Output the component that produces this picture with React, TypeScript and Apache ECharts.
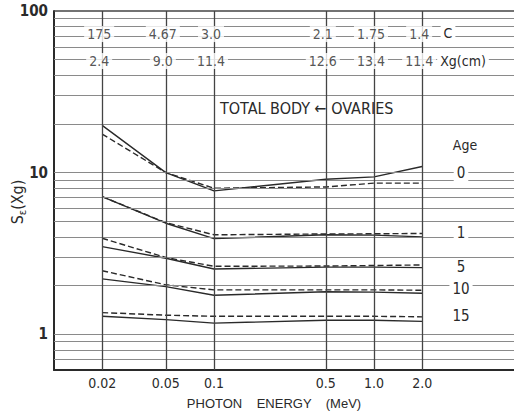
import React, { useEffect, useRef } from "react";
import * as echarts from "echarts";

// Photon energies (MeV) at which the curves are tabulated
const energies = [0.02, 0.05, 0.1, 0.5, 1.0, 2.0];
const energyLabels = ["0.02", "0.05", "0.1", "0.5", "1.0", "2.0"];

// Table rows printed across the top of the chart
const cRow = ["175", "4.67", "3.0", "2.1", "1.75", "1.4"];
const xgRow = ["2.4", "9.0", "11.4", "12.6", "13.4", "11.4"];

// Ages shown on the right
const ages = ["0", "1", "5", "10", "15"];

// S_e(Xg), total body (solid)
const bodyAge0 = [19.6, 10.0, 7.7, 9.1, 9.4, 10.9];
const bodyAge1 = [7.1, 4.86, 3.9, 4.12, 4.1, 4.0];
const bodyAge5 = [3.48, 2.95, 2.53, 2.6, 2.6, 2.58];
const bodyAge10 = [2.2, 1.97, 1.74, 1.83, 1.82, 1.79];
const bodyAge15 = [1.29, 1.23, 1.17, 1.22, 1.22, 1.2];

// S_e(Xg), ovaries (dashed)
const ovaryAge0 = [17.3, 10.0, 8.0, 8.15, 8.6, 8.6];
const ovaryAge1 = [7.1, 4.9, 4.12, 4.17, 4.18, 4.2];
const ovaryAge5 = [3.92, 2.98, 2.63, 2.64, 2.66, 2.68];
const ovaryAge10 = [2.47, 2.02, 1.88, 1.88, 1.88, 1.87];
const ovaryAge15 = [1.36, 1.31, 1.29, 1.29, 1.29, 1.28];

// Horizontal rulings of the log paper
const gridLevels = [
  0.7, 0.8, 0.9, 1, 2, 3, 4, 5, 6, 7, 8, 9, 10, 20, 30, 40, 50, 60, 70, 80, 90, 100,
];

const FONT = "'Liberation Sans Narrow', 'DejaVu Sans Condensed', 'Liberation Sans', sans-serif";
const WIDE_FONT = "'Liberation Sans', Arial, sans-serif";
const INK = "#2a2a2a";

export default function App() {
  const ref = useRef<HTMLDivElement>(null);

  useEffect(() => {
    if (!ref.current) return;
    const chart = echarts.init(ref.current, undefined, { renderer: "svg" });

    const curve = (name: string, values: number[], dashed: boolean) => ({
      name,
      type: "line",
      data: energies.map((e, i) => [e, values[i]]),
      symbol: "none",
      z: 3,
      lineStyle: {
        color: INK,
        width: 1.4,
        type: dashed ? [6, 3] : "solid",
      },
    });

    const tableRow = (labels: string[], level: number) => ({
      type: "scatter",
      data: energies.map((e, i) => ({ value: [e, level], label: { formatter: labels[i] } })),
      symbol: "circle",
      symbolSize: 0,
      z: 5,
      label: {
        show: true,
        position: "inside",
        offset: [-3, 0],
        color: INK,
        fontFamily: FONT,
        fontSize: 14,
        backgroundColor: "#fff",
        padding: [1, 3],
      },
    });

    const labelText = (text: string, x: number, y: number, size = 14) => ({
      type: "text",
      x,
      y,
      z: 10,
      style: {
        text,
        fill: INK,
        font: `${size}px ${FONT}`,
        align: "center",
        verticalAlign: "middle",
        backgroundColor: "#fff",
        padding: [1, 3],
      },
    });

    const ageY = [173, 233, 267, 289, 316];

    chart.setOption({
      animation: false,
      backgroundColor: "#fff",
      grid: { left: 54, right: 0, top: 11, bottom: 48 },
      xAxis: {
        type: "log",
        logBase: 10,
        min: 0.01,
        max: 7.5,
        axisLine: { show: true, onZero: false, lineStyle: { color: INK, width: 2 } },
        axisTick: { show: false },
        axisLabel: { show: false },
        splitLine: { show: false },
      },
      yAxis: {
        type: "log",
        logBase: 10,
        min: 0.6,
        max: 100,
        axisLine: { show: true, onZero: false, lineStyle: { color: INK, width: 2 } },
        axisTick: { show: false },
        splitLine: { show: false },
        axisLabel: {
          margin: 6,
          color: INK,
          fontFamily: FONT,
          fontSize: 15,
          fontWeight: "bold",
          formatter: (v: number) => {
            const l = Math.log10(v);
            return Math.abs(l - Math.round(l)) < 1e-6 ? String(Math.round(v)) : "";
          },
        },
      },
      series: [
        {
          type: "line",
          data: [],
          z: 1,
          markLine: {
            silent: true,
            symbol: ["none", "none"],
            animation: false,
            label: { show: false },
            lineStyle: { color: "#8a8a8a", width: 1.2, type: "solid" },
            data: gridLevels.map((v) => ({
              yAxis: v,
              lineStyle: v === 100 ? { color: "#444", width: 1.6, type: "solid" } : undefined,
            })),
          },
        },
        {
          type: "line",
          data: [],
          z: 2,
          markLine: {
            silent: true,
            symbol: ["none", "none"],
            animation: false,
            lineStyle: { color: "#444", width: 1.3, type: "solid" },
            label: {
              show: true,
              position: "start",
              distance: 6,
              color: INK,
              fontFamily: FONT,
              fontSize: 14,
            },
            data: energies.map((e, i) => ({
              xAxis: e,
              label: { formatter: energyLabels[i] },
            })),
          },
        },
        curve("Total body, age 0", bodyAge0, false),
        curve("Ovaries, age 0", ovaryAge0, true),
        curve("Total body, age 1", bodyAge1, false),
        curve("Ovaries, age 1", ovaryAge1, true),
        curve("Total body, age 5", bodyAge5, false),
        curve("Ovaries, age 5", ovaryAge5, true),
        curve("Total body, age 10", bodyAge10, false),
        curve("Ovaries, age 10", ovaryAge10, true),
        curve("Total body, age 15", bodyAge15, false),
        curve("Ovaries, age 15", ovaryAge15, true),
        tableRow(cRow, 72),
        tableRow(xgRow, 49),
      ],
      graphic: [
        labelText("C", 448, 33),
        labelText("Xg(cm)", 463, 61),
        {
          type: "text",
          x: 220,
          y: 108,
          z: 10,
          style: {
            text: "TOTAL BODY \u2190 OVARIES",
            fill: INK,
            font: `16px ${FONT}`,
            verticalAlign: "middle",
          },
        },
        labelText("Age", 465, 145),
        ...ages.map((a, i) => labelText(a, 461, ageY[i], 15)),
        {
          type: "text",
          x: 274,
          y: 403,
          z: 10,
          style: {
            text: "PHOTON    ENERGY    (MeV)",
            fill: INK,
            font: `13px ${WIDE_FONT}`,
            align: "center",
            verticalAlign: "middle",
          },
        },
        {
          type: "text",
          x: 17,
          y: 202,
          rotation: Math.PI / 2,
          z: 10,
          style: {
            text: "{s|S}{e|\u03b5}{s|(Xg)}",
            align: "center",
            verticalAlign: "middle",
            rich: {
              s: { fontSize: 16, fontFamily: FONT, fill: INK, lineHeight: 22 },
              e: { fontSize: 11, fontFamily: FONT, fill: INK, lineHeight: 22, padding: [10, 0, 0, 0] },
            },
          },
        },
      ],
    });

    return () => chart.dispose();
  }, []);

  return (
    <div
      ref={ref}
      style={{ position: "fixed", left: 0, top: 0, width: 514, height: 418, background: "#fff" }}
    />
  );
}
